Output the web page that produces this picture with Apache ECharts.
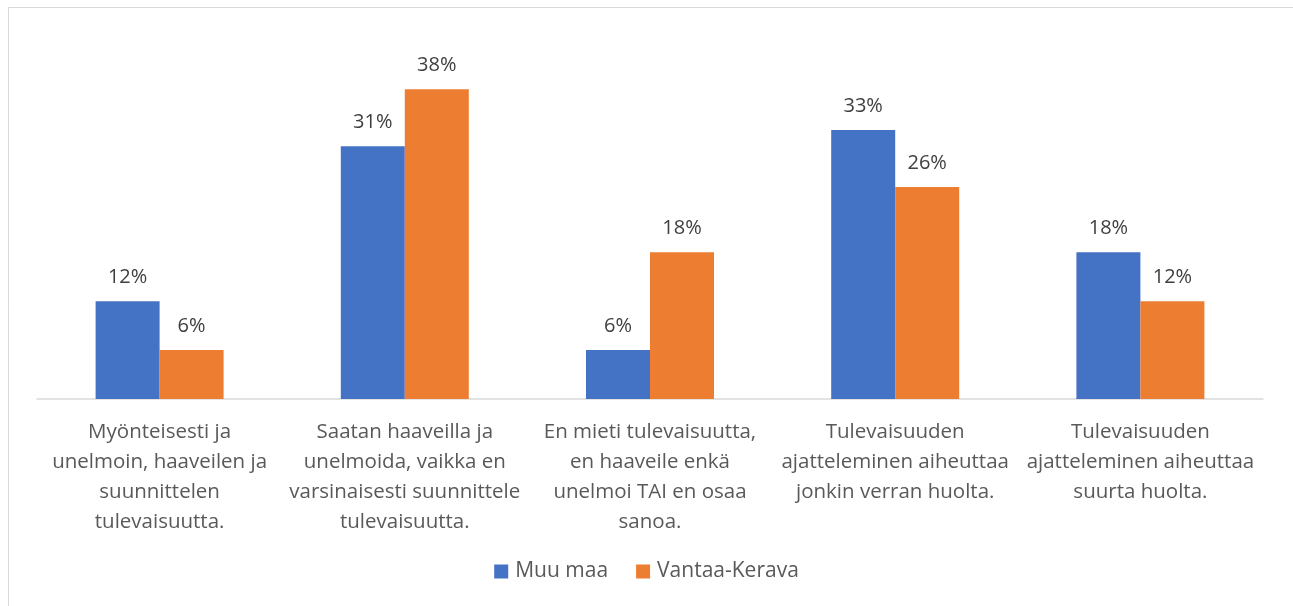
<!DOCTYPE html>
<html><head><meta charset="utf-8">
<script src="https://cdn.jsdelivr.net/npm/echarts@6/dist/echarts.min.js"></script>
<style>html,body{margin:0;padding:0;background:#fff}#c{width:1293px;height:606px}</style>
</head><body><div id="c"></div>
<script>
const categories = [
  "Myönteisesti ja\nunelmoin, haaveilen ja\nsuunnittelen\ntulevaisuutta.",
  "Saatan haaveilla ja\nunelmoida, vaikka en\nvarsinaisesti suunnittele\ntulevaisuutta.",
  "En mieti tulevaisuutta,\nen haaveile enkä\nunelmoi TAI en osaa\nsanoa.",
  "Tulevaisuuden\najatteleminen aiheuttaa\njonkin verran huolta.",
  "Tulevaisuuden\najatteleminen aiheuttaa\nsuurta huolta."
];
const seriesNames = ["Muu maa", "Vantaa-Kerava"];
const muuMaa = [12, 31, 6, 33, 18];
const vantaaKerava = [6, 38, 18, 26, 12];

const FONT = "'Open Sans', Lato, sans-serif";
const chart = echarts.init(document.getElementById('c'));
chart.setOption({
  animation: false,
  textStyle: { fontFamily: FONT },
  graphic: [{
    type: 'rect', left: 6, top: 5, shape: { width: 1300, height: 620 },
    style: { fill: 'none', stroke: '#d9d9d9', lineWidth: 1 }, silent: true, z: -1
  }],
  grid: { left: 37, right: 30, top: 73, bottom: 207 },
  legend: {
    bottom: 19, left: 'center', itemWidth: 14, itemHeight: 14, itemGap: 28,
    icon: 'rect',
    textStyle: { fontSize: 21, color: '#595959', fontFamily: FONT, padding: [0, 0, 0, 2] },
    data: seriesNames
  },
  xAxis: {
    type: 'category', data: categories,
    axisLine: { lineStyle: { color: '#d9d9d9', width: 1.5 } },
    axisTick: { show: false },
    axisLabel: { interval: 0, margin: 18, fontSize: 20.5, lineHeight: 30, color: '#595959', fontFamily: FONT, align: 'center' }
  },
  yAxis: { type: 'value', min: 0, max: 40, show: false, splitLine: { show: false } },
  series: [
    { name: seriesNames[0], type: 'bar', data: muuMaa, barWidth: 64, barGap: '0%',
      itemStyle: { color: '#4472c4' },
      label: { show: true, position: 'top', distance: 14, formatter: '{c}%', fontSize: 20, color: '#404040', fontFamily: FONT } },
    { name: seriesNames[1], type: 'bar', data: vantaaKerava, barWidth: 64, barGap: '0%',
      itemStyle: { color: '#ed7d31' },
      label: { show: true, position: 'top', distance: 14, formatter: '{c}%', fontSize: 20, color: '#404040', fontFamily: FONT } }
  ]
});
</script></body></html>
